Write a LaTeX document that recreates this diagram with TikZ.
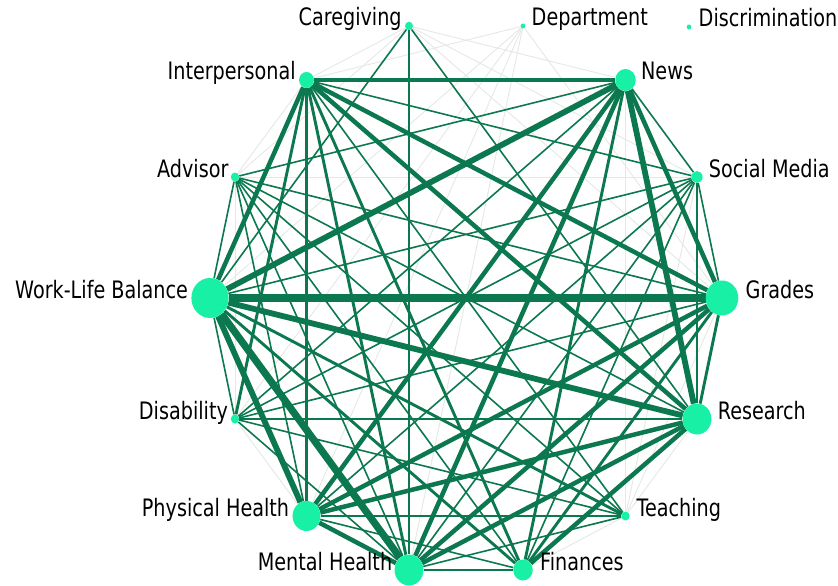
\documentclass[tikz,border=0pt]{standalone}
\usepackage{fontspec}
\setmainfont{DejaVu Sans}[FakeStretch=0.8]
\usetikzlibrary{backgrounds,shapes.geometric}

\definecolor{edgegreen}{RGB}{12,120,80}
\definecolor{edgefaint}{RGB}{228,232,230}
\definecolor{nodemint}{RGB}{24,240,166}

\tikzset{
  vert/.style={ellipse, fill=nodemint, inner sep=0pt, minimum height=#1, minimum width=0.93*#1},
  lbl/.style={inner sep=0pt, text=black, font=\fontsize{24}{28}\selectfont},
  lblL/.style={lbl, anchor=base east},
  lblR/.style={lbl, anchor=base west},
  wf/.style={draw=edgefaint, line width=0.9pt},
  w2/.style={draw=edgegreen, line width=1.6pt},
  w3/.style={draw=edgegreen, line width=2.9pt},
  w4/.style={draw=edgegreen, line width=4.5pt},
  w5/.style={draw=edgegreen, line width=5.8pt},
  w6/.style={draw=edgegreen, line width=7.2pt},
}

\begin{document}
\begin{tikzpicture}[x=1pt, y=-1pt]
  \useasboundingbox (0,0) rectangle (838,586);

  % vertices on the ring
  \node[vert=8.5] (C)  at (409,26)    {};
  \node[vert=5]   (D)  at (523,26)    {};
  \node[vert=16]  (I)  at (306.5,80)  {};
  \node[vert=22]  (N)  at (625.5,80)  {};
  \node[vert=9]   (A)  at (235,177)   {};
  \node[vert=12]  (S)  at (697,177)   {};
  \node[vert=40]  (W)  at (210,298)   {};
  \node[vert=35]  (G)  at (722,298)   {};
  \node[vert=9]   (Di) at (235,419)   {};
  \node[vert=31]  (R)  at (697,419)   {};
  \node[vert=30]  (P)  at (306.5,516) {};
  \node[vert=9]   (T)  at (625.5,516) {};
  \node[vert=31]  (M)  at (409,570)   {};
  \node[vert=21]  (F)  at (523,570)   {};
  % isolated vertex
  \node[vert=5]   (X)  at (689,27)    {};

  % labels
  \node[lblL] (C-l)  at ([xshift=-3pt]C.west)   {Caregiving};
  \node[lblR] (D-l)  at ([xshift=6pt]D.east)    {Department};
  \node[lblR] (X-l)  at ([xshift=7pt]X.east)    {Discrimination};
  \node[lblL] (I-l)  at ([xshift=-3pt]I.west)   {Interpersonal};
  \node[lblR] (N-l)  at ([xshift=5pt]N.east)    {News};
  \node[lblL] (A-l)  at ([xshift=-2pt]A.west)   {Advisor};
  \node[lblR] (S-l)  at ([xshift=6pt]S.east)    {Social Media};
  \node[lblL] (W-l)  at ([xshift=-3pt]W.west)   {Work-Life Balance};
  \node[lblR] (G-l)  at ([xshift=7pt]G.east)    {Grades};
  \node[lblL] (Di-l) at ([xshift=-2.5pt]Di.west) {Disability};
  \node[lblR] (R-l)  at ([xshift=6pt]R.east)    {Research};
  \node[lblL] (P-l)  at ([xshift=-3pt]P.west)   {Physical Health};
  \node[lblR] (T-l)  at ([xshift=6.5pt]T.east)  {Teaching};
  \node[lblL] (M-l)  at ([xshift=-2pt]M.west)   {Mental Health};
  \node[lblR] (F-l)  at ([xshift=7pt]F.east)    {Finances};

  \begin{pgfonlayer}{background}
    \fill[white] (0,0) rectangle (838,586);
    % weak ties
    \foreach \a/\b in {C/I, C/N, C/S, C/G, C/A, D/W, D/I, D/P, D/M, D/Di, D/G,
                       N/T, R/T, F/T, G/T, A/I, A/Di, Di/P, S/T, S/A}
      \draw[wf] (\a) -- (\b);
    % light ties
    \foreach \a/\b in {C/W, C/R, W/A, W/Di, W/S, I/S, I/T, N/A, N/Di, N/S,
                       G/A, G/S, G/Di, S/R, S/Di, S/P, S/M, S/F,
                       A/R, A/T, A/F, A/M, A/P, Di/R, Di/T, Di/M,
                       P/T, P/F, M/F, M/T}
      \draw[w2] (\a) -- (\b);
    % medium ties
    \foreach \a/\b in {C/M, I/P, I/F, I/M, I/Di, N/F, G/F, G/R, W/T, W/F}
      \draw[w3] (\a) -- (\b);
    % strong ties
    \foreach \a/\b in {I/N, I/W, I/G, I/R, N/P, N/M, N/G, G/P, G/M,
                       R/P, R/M, R/F, M/P}
      \draw[w4] (\a) -- (\b);
    \foreach \a/\b in {W/N, W/R, W/P, N/R}
      \draw[w5] (\a) -- (\b);
    % strongest ties
    \foreach \a/\b in {W/G, W/M}
      \draw[w6] (\a) -- (\b);
  \end{pgfonlayer}
\end{tikzpicture}
\end{document}
